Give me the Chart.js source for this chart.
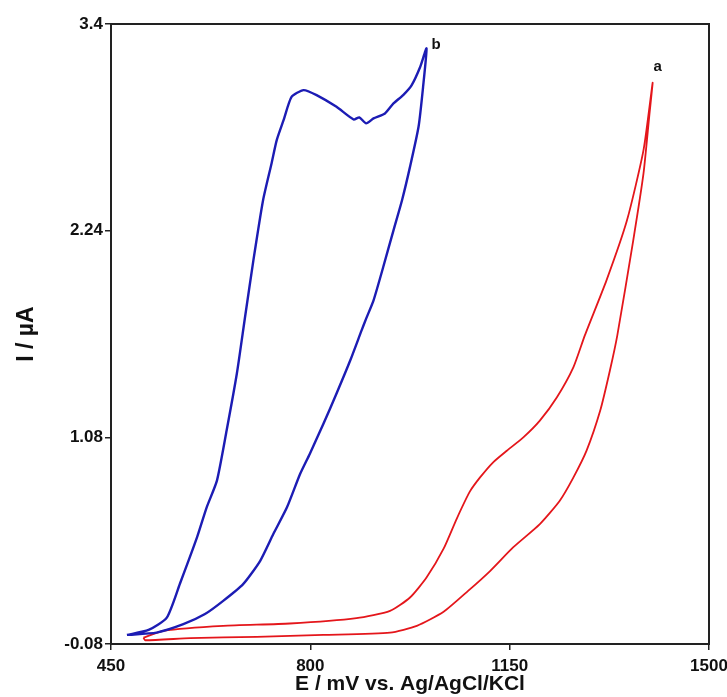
<!DOCTYPE html>
<html lang="en">
<head>
    <meta charset="UTF-8">
    <title>Cyclic voltammograms a / b</title>
    <script src="https://cdn.jsdelivr.net/npm/chart.js"></script>
    <style>
        body { margin: 0; background: #fff; }
        #wrap { width: 727px; height: 697px; }
    </style>
</head>
<body>
<div id="wrap"><canvas id="cvChart"></canvas></div>

<script>
    // Curve b (blue): forward scan up to the vertex, then back
    const blueE = [478, 516, 548, 571, 601, 618, 636, 653, 671, 685, 700, 717, 732, 741, 753, 767, 788, 811, 846, 876, 886, 898, 911, 931, 946, 963, 978, 993, 1004,
                   998, 990, 975, 961, 946, 928, 911, 898, 890, 870, 846, 823, 799, 782, 759, 735, 712, 682, 647, 615, 577, 530, 478];
    const blueI = [-0.029, -0.001, 0.068, 0.258, 0.518, 0.687, 0.837, 1.118, 1.438, 1.747, 2.073, 2.411, 2.619, 2.748, 2.860, 2.991, 3.029, 3.001, 2.935, 2.864, 2.876, 2.842, 2.870, 2.898, 2.954, 3.001, 3.057, 3.160, 3.263,
                   3.048, 2.823, 2.598, 2.411, 2.242, 2.036, 1.849, 1.746, 1.680, 1.511, 1.326, 1.156, 0.987, 0.874, 0.687, 0.537, 0.387, 0.256, 0.162, 0.088, 0.031, -0.016, -0.029];

    // Curve a (red)
    const redE = [507, 542, 647, 764, 881, 940, 975, 1004, 1034, 1057, 1080, 1098, 1121, 1145, 1174, 1203, 1233, 1262, 1282, 1320, 1356, 1385, 1401,
                  1395, 1385, 1367, 1339, 1326, 1309, 1285, 1262, 1238, 1203, 1156, 1116, 1077, 1034, 987, 940, 823, 706, 589, 510, 507];
    const redI = [-0.044, -0.006, 0.022, 0.035, 0.065, 0.106, 0.181, 0.293, 0.455, 0.623, 0.775, 0.855, 0.940, 1.005, 1.080, 1.174, 1.305, 1.474, 1.652, 1.961, 2.298, 2.692, 3.070,
                  2.879, 2.561, 2.186, 1.652, 1.455, 1.230, 1.005, 0.855, 0.724, 0.593, 0.462, 0.331, 0.218, 0.101, 0.022, -0.016, -0.029, -0.040, -0.047, -0.059, -0.044];

    // axis ticks
    const xTicks = [450, 800, 1150, 1500];
    const xTickLabels = ['450', '800', '1150', '1500'];
    const yTicks = [-0.08, 1.08, 2.24, 3.4];
    const yTickLabels = ['-0.08', '1.08', '2.24', '3.4'];

    const toPoints = (xs, ys) => xs.map((x, i) => ({ x: x, y: ys[i] }));
    const FONT = '"Liberation Sans", Arial, sans-serif';

    // frame round the plot area + the curve letters
    const framePlugin = {
        id: 'frame',
        afterDatasetsDraw(chart) {
            const { ctx, chartArea: a, scales } = chart;
            ctx.save();
            ctx.strokeStyle = '#222';
            ctx.lineWidth = 2;
            ctx.strokeRect(a.left, a.top, a.right - a.left, a.bottom - a.top);

            ctx.fillStyle = '#111';
            ctx.font = 'bold 15px ' + FONT;
            const bx = scales.x.getPixelForValue(blueE[28]);
            const by = scales.y.getPixelForValue(blueI[28]);
            ctx.textAlign = 'left';
            ctx.textBaseline = 'middle';
            ctx.fillText('b', bx + 5, by - 4);
            const ax = scales.x.getPixelForValue(redE[22]);
            const ay = scales.y.getPixelForValue(redI[22]);
            ctx.textAlign = 'center';
            ctx.fillText('a', ax + 5, ay - 16);
            ctx.restore();
        }
    };

    const ctx = document.getElementById('cvChart').getContext('2d');
    const cvChart = new Chart(ctx, {
        type: 'scatter',
        data: {
            datasets: [
                { label: 'b', data: toPoints(blueE, blueI), showLine: true, borderColor: '#1c1cb4', borderWidth: 2.4, pointRadius: 0, tension: 0.2 },
                { label: 'a', data: toPoints(redE, redI), showLine: true, borderColor: '#e4161b', borderWidth: 1.8, pointRadius: 0, tension: 0.2 }
            ]
        },
        options: {
            responsive: true,
            maintainAspectRatio: false,
            animation: false,
            layout: { padding: { top: 24, right: 18, left: 0, bottom: 0 } },
            plugins: { legend: { display: false }, tooltip: { enabled: false } },
            scales: {
                x: {
                    type: 'linear',
                    min: 450, max: 1500,
                    afterBuildTicks: axis => { axis.ticks = xTicks.map(v => ({ value: v })); },
                    afterFit: axis => { axis.height = 53; axis.paddingLeft = 0; axis.paddingRight = 0; },
                    grid: { drawOnChartArea: false, tickLength: 6, color: '#222', lineWidth: 1.5 },
                    border: { color: '#222', width: 2 },
                    ticks: {
                        color: '#111', padding: 6, maxRotation: 0,
                        font: { family: FONT, size: 17, weight: 'bold' },
                        callback: (v, i) => xTickLabels[i]
                    },
                    title: { display: true, text: 'E / mV vs. Ag/AgCl/KCl', color: '#111', padding: { top: 0, bottom: 0 }, font: { family: FONT, size: 21, weight: 'bold' } }
                },
                y: {
                    type: 'linear',
                    min: -0.08, max: 3.4,
                    afterBuildTicks: axis => { axis.ticks = yTicks.map(v => ({ value: v })); },
                    afterFit: axis => { axis.width = 111; axis.paddingTop = 0; axis.paddingBottom = 0; },
                    grid: { drawOnChartArea: false, tickLength: 6, color: '#222', lineWidth: 1.5 },
                    border: { color: '#222', width: 2 },
                    ticks: {
                        color: '#111', padding: 2,
                        font: { family: FONT, size: 17, weight: 'bold' },
                        callback: (v, i) => yTickLabels[i]
                    },
                    title: { display: true, text: 'I / µA', color: '#111', padding: { top: 13, bottom: 0 }, font: { family: FONT, size: 23, weight: 'bold' } }
                }
            }
        },
        plugins: [framePlugin]
    });
</script>
</body>
</html>
